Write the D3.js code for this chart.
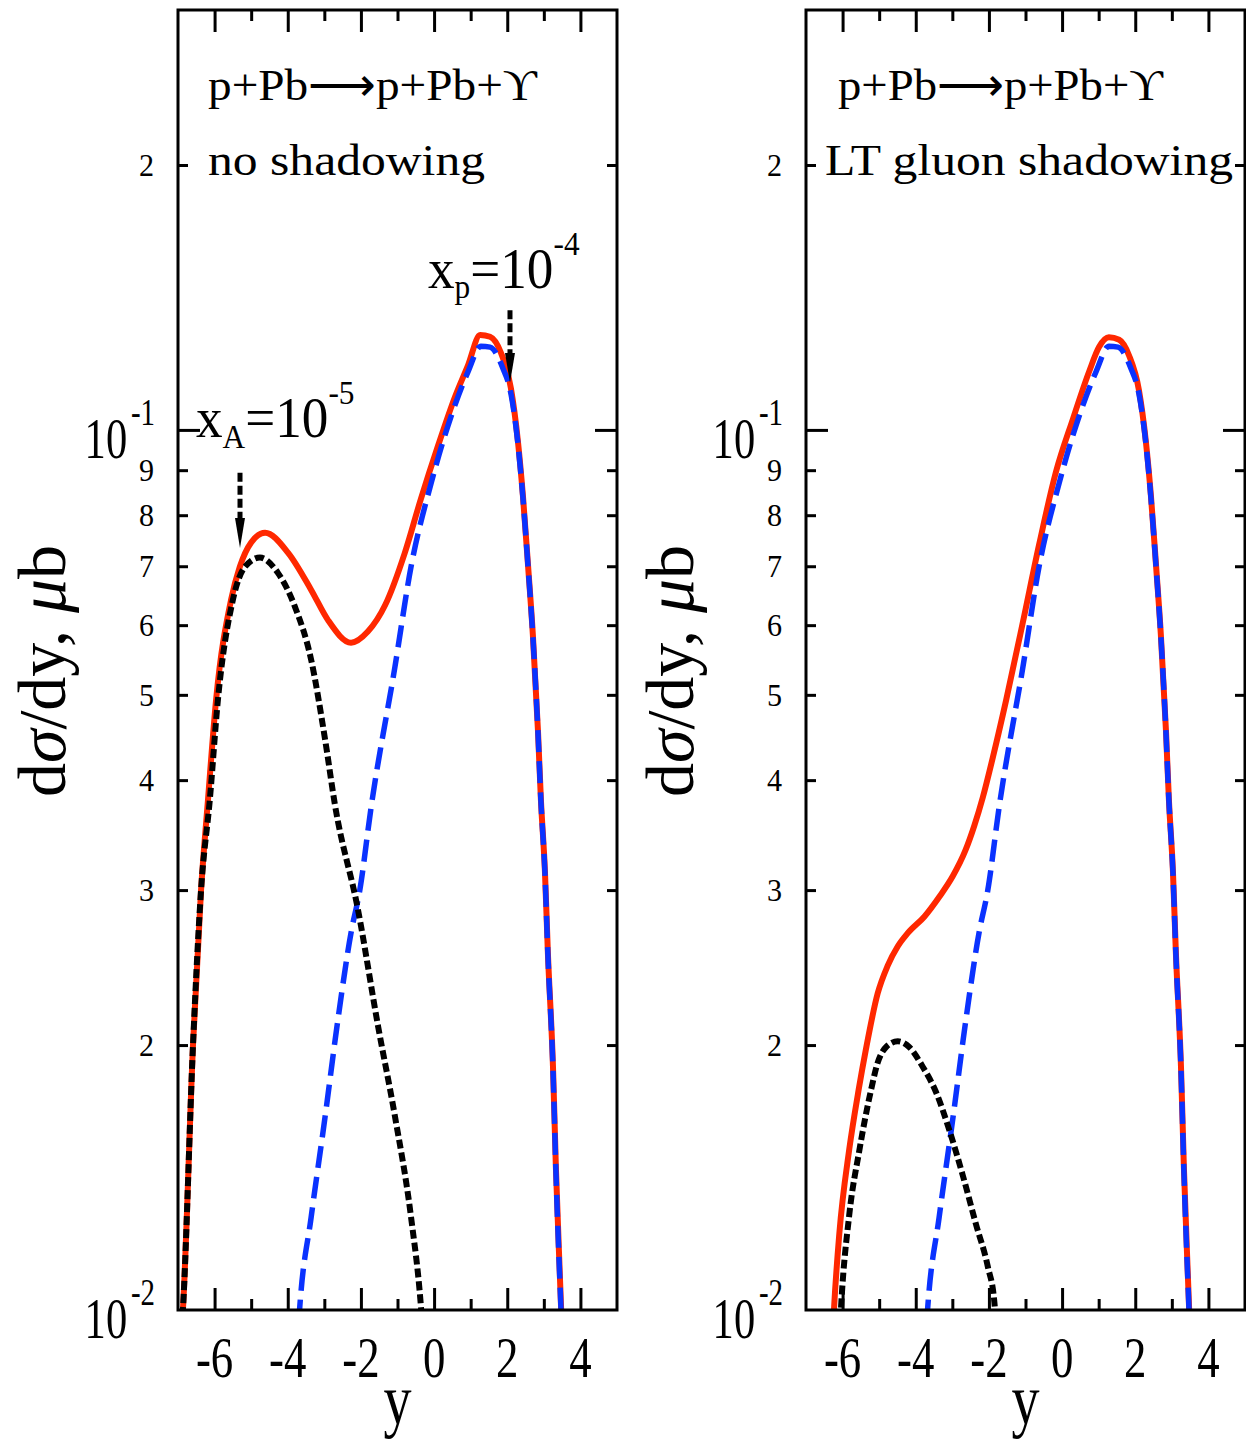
<!DOCTYPE html>
<html>
<head>
<meta charset="utf-8">
<script src="https://cdn.jsdelivr.net/npm/d3@7"></script>
<style>
  body { margin: 0; background: #fff; }
  text { font-family: "Liberation Serif", "Times New Roman", serif; fill: #000; }
</style>
</head>
<body>
<div id="chart"></div>
<script>
// rapidity y vs dsigma/dy (microbarn)
// left panel: no shadowing
var noShadTotal = [[-6.92,0.0092],[-6.86,0.0101],[-6.59,0.0200],[-6.37,0.0300],[-6.18,0.0380],[-5.96,0.0493],[-5.55,0.0641],[-5.31,0.0699],[-5.0,0.0745],[-4.62,0.0764],[-3.99,0.0725],[-3.36,0.0658],[-2.90,0.0608],[-2.27,0.0573],[-1.81,0.0590],[-1.34,0.0632],[-0.80,0.0725],[-0.36,0.0835],[0.11,0.0960],[0.57,0.1090],[0.93,0.1185],[1.26,0.1282],[1.53,0.1276],[1.83,0.1223],[2.10,0.1115],[2.29,0.0972],[2.43,0.0840],[2.57,0.0700],[2.70,0.0585],[2.84,0.0455],[2.92,0.0380],[3.03,0.0315],[3.11,0.0255],[3.25,0.0189],[3.33,0.0145],[3.47,0.0101],[3.50,0.0093]];
var noShadNucleus = [[-6.92,0.0092],[-6.86,0.0101],[-6.59,0.0200],[-6.37,0.0300],[-6.13,0.0380],[-5.91,0.0493],[-5.50,0.0641],[-5.17,0.0699],[-4.76,0.0716],[-4.27,0.0688],[-3.80,0.0629],[-3.36,0.0548],[-2.98,0.0445],[-2.71,0.0375],[-2.08,0.0285],[-1.53,0.0210],[-1.07,0.0166],[-0.63,0.01275],[-0.36,0.0101],[-0.32,0.0096]];
// right panel: LT gluon shadowing
var ltShadTotal = [[-6.28,0.0092],[-6.23,0.0101],[-6.09,0.0122],[-5.82,0.0152],[-5.56,0.0178],[-5.36,0.0198],[-5.04,0.0229],[-4.77,0.0246],[-4.49,0.0259],[-4.22,0.0268],[-3.76,0.0280],[-3.35,0.0295],[-2.99,0.0311],[-2.64,0.0333],[-2.40,0.0355],[-2.17,0.0382],[-1.89,0.0425],[-1.53,0.0493],[-1.07,0.0605],[-0.63,0.0740],[-0.17,0.0895],[0.30,0.1030],[0.74,0.1165],[1.01,0.1242],[1.28,0.1274],[1.56,0.1266],[1.83,0.1215],[2.10,0.1110],[2.29,0.0970],[2.43,0.0840],[2.57,0.0700],[2.70,0.0585],[2.84,0.0455],[2.92,0.0380],[3.03,0.0315],[3.11,0.0255],[3.25,0.0189],[3.33,0.0145],[3.47,0.0101],[3.50,0.0093]];
var ltShadNucleus = [[-6.08,0.0094],[-6.04,0.0101],[-5.82,0.0128],[-5.54,0.0152],[-5.22,0.0178],[-5.04,0.0191],[-4.81,0.0199],[-4.49,0.0202],[-4.18,0.0199],[-3.81,0.0189],[-3.45,0.0177],[-3.08,0.0160],[-2.71,0.0142],[-2.35,0.0125],[-2.03,0.0112],[-1.85,0.0102],[-1.82,0.0098]];
// proton side contribution, same in both panels
var protonSide = [[-3.70,0.0097],[-3.67,0.0101],[-3.36,0.01275],[-2.98,0.01657],[-2.63,0.02136],[-2.27,0.02683],[-2.03,0.0300],[-1.72,0.0373],[-1.07,0.0538],[-0.63,0.0699],[-0.08,0.0870],[0.46,0.1035],[0.93,0.1165],[1.28,0.1245],[1.53,0.1242],[1.88,0.1175],[2.10,0.1100],[2.29,0.0966],[2.43,0.0836],[2.57,0.0698],[2.70,0.0583],[2.84,0.0453],[2.92,0.0379],[3.03,0.0314],[3.11,0.0254],[3.25,0.0188],[3.33,0.0144],[3.47,0.0100],[3.50,0.0093]];

var xMajor = [-6, -4, -2, 0, 2, 4];
var xMinor = [-5, -3, -1, 1, 3];
var yMinorTicks = [0.02, 0.03, 0.04, 0.05, 0.06, 0.07, 0.08, 0.09, 0.2];
var yMinorLabels = ["2", "3", "4", "5", "6", "7", "8", "9", "2"];
var yMajorTicks = [0.01, 0.1];
var yMajorExp = ["-2", "-1"];

var svgWidth = 1246, svgHeight = 1441;
var plotW = 439, plotH = 1300;

var svg = d3.select("#chart").append("svg")
  .attr("width", svgWidth)
  .attr("height", svgHeight);

var x = d3.scaleLinear().domain([-7, 5]).range([0, plotW]);
var y = d3.scaleLog().domain([0.01, 0.3]).range([plotH, 0]);

var line = d3.line()
  .x(d => x(d[0]))
  .y(d => y(d[1]))
  .curve(d3.curveMonotoneX);

svg.append("defs").append("clipPath").attr("id", "plotclip")
  .append("rect").attr("width", plotW).attr("height", plotH);

function tickAxis(g, axis) {
  g.call(axis);
  g.select(".domain").remove();
  g.selectAll("line").attr("stroke", "#000").attr("stroke-width", 3);
}

function drawPanel(left, total, nucleus, proton, title1, title2, t1x, t2x, t1w, t2w) {
  var g = svg.append("g").attr("transform", `translate(${left}, 10)`);

  // curves
  var curves = g.append("g").attr("clip-path", "url(#plotclip)");
  curves.append("path").attr("d", line(total))
    .attr("fill", "none").attr("stroke", "#ff2800").attr("stroke-width", 6);
  curves.append("path").attr("d", line(proton))
    .attr("fill", "none").attr("stroke", "#0a32ff").attr("stroke-width", 5.5)
    .attr("stroke-dasharray", "22,9");
  curves.append("path").attr("d", line(nucleus))
    .attr("fill", "none").attr("stroke", "#000").attr("stroke-width", 6)
    .attr("stroke-dasharray", "9,4");

  // ticks (inward) on all four sides
  tickAxis(g.append("g").attr("transform", `translate(0, ${plotH})`),
    d3.axisBottom(x).tickValues(xMajor).tickSize(-22).tickSizeOuter(0).tickFormat(""));
  tickAxis(g.append("g").attr("transform", `translate(0, ${plotH})`),
    d3.axisBottom(x).tickValues(xMinor).tickSize(-11).tickSizeOuter(0).tickFormat(""));
  tickAxis(g.append("g"),
    d3.axisTop(x).tickValues(xMajor).tickSize(-22).tickSizeOuter(0).tickFormat(""));
  tickAxis(g.append("g"),
    d3.axisTop(x).tickValues(xMinor).tickSize(-11).tickSizeOuter(0).tickFormat(""));
  tickAxis(g.append("g"),
    d3.axisLeft(y).tickValues([0.1]).tickSize(-22).tickSizeOuter(0).tickFormat(""));
  tickAxis(g.append("g"),
    d3.axisLeft(y).tickValues(yMinorTicks).tickSize(-10).tickSizeOuter(0).tickFormat(""));
  tickAxis(g.append("g").attr("transform", `translate(${plotW}, 0)`),
    d3.axisRight(y).tickValues([0.1]).tickSize(-22).tickSizeOuter(0).tickFormat(""));
  tickAxis(g.append("g").attr("transform", `translate(${plotW}, 0)`),
    d3.axisRight(y).tickValues(yMinorTicks).tickSize(-10).tickSizeOuter(0).tickFormat(""));

  // frame
  g.append("rect").attr("width", plotW).attr("height", plotH)
    .attr("fill", "none").attr("stroke", "#000").attr("stroke-width", 3);

  // y tick labels
  yMinorTicks.forEach(function(v, i) {
    g.append("text")
      .attr("transform", `translate(-24, ${y(v) + 11}) scale(0.94, 1)`)
      .attr("text-anchor", "end")
      .attr("font-size", 32)
      .text(yMinorLabels[i]);
  });
  yMajorTicks.forEach(function(v, i) {
    var t = g.append("text")
      .attr("transform", `translate(-23, ${y(v) + 28}) scale(0.76, 1)`)
      .attr("text-anchor", "end")
      .attr("font-size", 56);
    t.append("tspan").text("10");
    t.append("tspan").attr("font-size", 38).attr("dx", 5).attr("dy", -33).text(yMajorExp[i]);
  });

  // x tick labels
  xMajor.forEach(function(v) {
    g.append("text")
      .attr("transform", `translate(${x(v)}, ${plotH + 67}) scale(0.8, 1)`)
      .attr("text-anchor", "middle")
      .attr("font-size", 56)
      .text(v);
  });

  // axis titles
  g.append("text")
    .attr("transform", `translate(${plotW / 2}, ${plotH + 114}) scale(0.79, 1)`)
    .attr("text-anchor", "middle")
    .attr("font-size", 71)
    .text("y");

  var yt = g.append("text")
    .attr("transform", `translate(-113, 661) rotate(-90)`)
    .attr("text-anchor", "middle")
    .attr("font-size", 68);
  yt.append("tspan").text("d");
  yt.append("tspan").attr("font-style", "italic").text("σ");
  yt.append("tspan").text("/dy, ");
  yt.append("tspan").attr("font-style", "italic").text("μ");
  yt.append("tspan").text("b");

  // panel titles
  g.append("text").attr("x", t1x).attr("y", 90)
    .attr("font-size", 44)
    .attr("textLength", t1w).attr("lengthAdjust", "spacingAndGlyphs")
    .text(title1);
  g.append("text").attr("x", t2x).attr("y", 165)
    .attr("font-size", 44)
    .attr("textLength", t2w).attr("lengthAdjust", "spacingAndGlyphs")
    .text(title2);

  return g;
}

function arrow(g, yv, vTop, vHead, vTip) {
  var ax = x(yv);
  g.append("line")
    .attr("x1", ax).attr("x2", ax)
    .attr("y1", y(vTop)).attr("y2", y(vHead))
    .attr("stroke", "#000").attr("stroke-width", 5)
    .attr("stroke-dasharray", "9,4");
  g.append("path")
    .attr("d", `M${ax - 5},${y(vHead)} L${ax + 5},${y(vHead)} L${ax},${y(vTip)} Z`)
    .attr("fill", "#000");
}

function annotation(g, px, py, base, sub, sup, subDy) {
  var t = g.append("text")
    .attr("transform", `translate(${px}, ${py}) scale(0.95, 1)`)
    .attr("font-size", 56);
  t.append("tspan").text(base);
  t.append("tspan").attr("font-size", 33).attr("dy", subDy).text(sub);
  t.append("tspan").attr("dy", -subDy).text("=10");
  t.append("tspan").attr("font-size", 33).attr("dy", -33).text(sup);
}

var leftPanel = drawPanel(178, noShadTotal, noShadNucleus, protonSide,
  "p+Pb\u27F6p+Pb+\u03D2", "no shadowing", 30, 30, 329, 277);
var rightPanel = drawPanel(806, ltShadTotal, ltShadNucleus, protonSide,
  "p+Pb\u27F6p+Pb+\u03D2", "LT gluon shadowing", 32, 19, 325, 408);

// arrows marking x_A = 1e-5 and x_p = 1e-4
arrow(leftPanel, -5.305, 0.0894, 0.0794, 0.0734);
arrow(leftPanel, 2.075, 0.1368, 0.1223, 0.1131);
annotation(leftPanel, 18, 427, "x", "A", "-5", 11);
annotation(leftPanel, 250, 278, "x", "p", "-4", 10);
</script>
</body>
</html>
